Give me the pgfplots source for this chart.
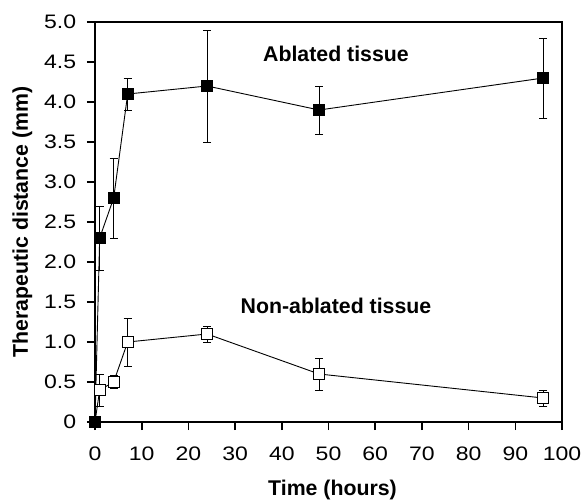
\documentclass[border=0pt]{standalone}
\usepackage{fontspec}
\setmainfont{Liberation Sans}
\usepackage{pgfplots}
\pgfplotsset{compat=1.18}
\begin{document}
\begin{tikzpicture}
\begin{axis}[
  at={(0,0)}, anchor=south west,
  scale only axis,
  width=467pt, height=400pt,
  xmin=0, xmax=100, ymin=0, ymax=5,
  xtick={0,10,...,100},
  ytick={0,0.5,...,5},
  yticklabels={0,0.5,1.0,1.5,2.0,2.5,3.0,3.5,4.0,4.5,5.0},
  /pgf/number format/assume math mode=true,
  tick align=outside,
  xtick pos=left, ytick pos=left,
  major tick length=8pt,
  tick style={line width=1.6pt, black},
  axis line style={line width=1.8pt},
  ticklabel style={font=\fontsize{19.5}{21}\selectfont, xscale=1.18, inner sep=0pt},
  xticklabel style={anchor=base, yshift=-30.5pt},
  yticklabel style={anchor=east, xshift=-9pt},
  xlabel={Time (hours)},
  ylabel={Therapeutic distance (mm)},
  label style={font=\fontsize{21.3}{23}\selectfont\bfseries, inner sep=0pt},
  xlabel style={at={(axis description cs:0.5086,-0.1825)}, anchor=base},
  ylabel style={at={(axis description cs:-0.1435,0.5)}, anchor=base},
  clip=false,
]
\addplot[black, line width=0.9pt, mark=square*, mark size=5.6pt,
  mark options={fill=white, line width=0.9pt},
  error bars/.cd, y dir=both, y explicit,
  error bar style={line width=0.9pt},
  error mark=|,
  error mark options={line width=0.9pt, mark size=4pt}]
  coordinates {
  (0,0) +- (0,0)
  (1,0.4) +- (0,0.2)
  (4,0.5) +- (0,0.08)
  (7,1.0) +- (0,0.3)
  (24,1.1) +- (0,0.1)
  (48,0.6) +- (0,0.2)
  (96,0.3) +- (0,0.1)
  };
\addplot[black, line width=0.9pt, mark=square*, mark size=5.6pt,
  mark options={fill=black},
  error bars/.cd, y dir=both, y explicit,
  error bar style={line width=0.9pt},
  error mark=|,
  error mark options={line width=0.9pt, mark size=4pt}]
  coordinates {
  (0,0) +- (0,0)
  (1,2.3) +- (0,0.4)
  (4,2.8) +- (0,0.5)
  (7,4.1) +- (0,0.2)
  (24,4.2) +- (0,0.7)
  (48,3.9) +- (0,0.3)
  (96,4.3) +- (0,0.5)
  };
\node[font=\fontsize{21.3}{23}\selectfont\bfseries, anchor=base, inner sep=0pt] at (axis cs:51.6,4.51) {Ablated tissue};
\node[font=\fontsize{21.3}{23}\selectfont\bfseries, anchor=base, inner sep=0pt] at (axis cs:51.6,1.3625) {Non-ablated tissue};
\end{axis}
\pgfresetboundingbox
\path (-95pt,-79pt) rectangle (490pt,422pt);
\end{tikzpicture}
\end{document}
